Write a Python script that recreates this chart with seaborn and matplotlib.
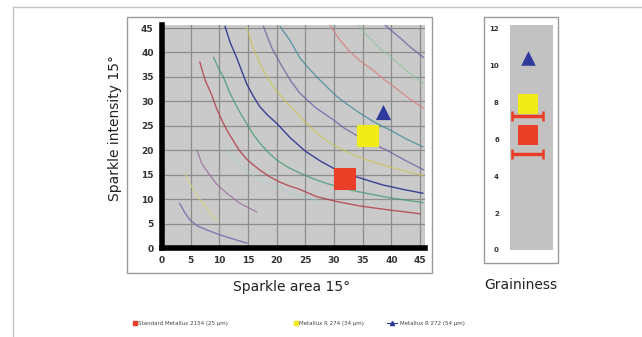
import numpy as np
import pandas as pd
import matplotlib
matplotlib.use('Agg')
import matplotlib.pyplot as plt
from matplotlib.patches import Rectangle
from matplotlib.lines import Line2D
import seaborn as sns

# ---- data ----
# iso-lines in the sparkle map (x = sparkle area, y = sparkle intensity)
curve_names = ['c1', 'c2', 'c3', 'c3b', 'c4', 'c5', 'c6', 'c7', 'c8', 'c9', 'c10', 'c11', 'c12']
curve_colors = ['#6d6dae', '#d9d77a', '#9a6c9c', '#9fd3d6', '#b3404c', '#3f9a6e', '#33378f',
                '#c9c652', '#6c5ba3', '#3c8a98', '#d88282', '#8fc49a', '#6e5aa6']
curve_x = [
    [3.1, 4.0, 4.9, 6.2, 7.8, 10.1, 12.5, 14.8],
    [4.0, 4.7, 5.5, 6.3, 7.2, 8.3, 9.5],
    [6.1, 6.9, 8.1, 9.5, 11.3, 13.5, 16.5],
    [11.0, 12.4, 14.0, 15.8, 18.0, 20.4, 23.0, 28.0],
    [6.6, 7.5, 8.6, 9.5, 10.5, 11.4, 12.4, 13.4, 14.5, 15.7, 17.0, 18.6, 20.5, 22.2, 24.0, 27.0, 30.5, 34.5, 39.5, 45.0],
    [9.0, 9.8, 10.7, 11.8, 13.0, 14.0, 15.0, 16.0, 17.1, 18.5, 20.0, 22.0, 24.1, 26.3, 28.7, 33.0, 40.0, 45.5],
    [11.0, 11.9, 13.0, 13.9, 14.8, 15.9, 17.0, 18.4, 20.0, 22.4, 25.0, 27.6, 30.4, 33.0, 35.7, 38.5, 42.0, 45.5],
    [14.8, 15.8, 17.0, 18.1, 19.4, 21.4, 23.5, 24.9, 26.4, 28.1, 30.0, 32.7, 35.7, 40.0, 45.5],
    [17.7, 19.2, 21.0, 22.5, 24.1, 26.8, 29.9, 31.8, 34.0, 36.5, 39.2, 42.3, 45.6],
    [20.6, 22.3, 24.0, 25.4, 27.0, 28.7, 30.5, 32.4, 34.5, 37.1, 40.0, 42.6, 45.5],
    [29.3, 30.8, 32.5, 34.5, 36.8, 38.8, 41.0, 43.2, 45.6],
    [34.0, 35.4, 37.0, 38.4, 40.0, 42.7, 45.6],
    [38.5, 40.0, 41.5, 43.4, 45.6],
]
curve_y = [
    [9.1, 7.2, 5.7, 4.5, 3.7, 2.7, 1.8, 1.0],
    [15.3, 13.5, 11.9, 10.4, 9.1, 7.3, 5.7],
    [20.0, 17.4, 15.3, 13.1, 11.2, 9.2, 7.4],
    [21.0, 18.5, 16.5, 14.9, 13.5, 12.2, 11.0, 9.5],
    [38.0, 34.4, 31.5, 28.6, 26.0, 23.9, 22.0, 20.1, 18.5, 17.2, 16.0, 14.7, 13.5, 12.7, 12.0, 10.5, 9.5, 8.6, 7.8, 7.0],
    [39.0, 36.9, 35.0, 31.8, 29.0, 26.9, 25.0, 23.1, 21.4, 19.6, 18.0, 16.5, 15.3, 14.2, 13.2, 11.8, 10.2, 9.3],
    [45.3, 42.0, 39.0, 36.2, 33.5, 31.1, 29.0, 27.2, 25.5, 22.5, 19.8, 17.8, 16.0, 14.9, 13.9, 12.9, 12.0, 11.2],
    [45.0, 41.2, 38.0, 35.4, 33.0, 30.2, 27.6, 25.8, 24.1, 22.5, 21.0, 19.4, 18.0, 16.5, 14.8],
    [45.3, 40.8, 37.0, 34.1, 31.6, 28.7, 26.2, 24.5, 23.0, 21.5, 20.0, 18.0, 16.0],
    [45.3, 42.5, 39.0, 37.0, 35.0, 33.0, 31.0, 29.3, 27.6, 25.7, 24.0, 22.3, 20.7],
    [45.6, 42.9, 40.5, 38.3, 36.4, 34.4, 32.5, 30.5, 28.6],
    [46.0, 43.9, 42.0, 40.4, 39.0, 36.2, 33.7],
    [46.0, 44.5, 43.0, 41.0, 39.0],
]
curve_alpha = [0.85, 0.7, 0.75, 0.45, 0.85, 0.75, 0.95, 0.7, 0.75, 0.75, 0.8, 0.65, 0.75]

# materials
materials = ['Standard Metallux 2154 (25 µm)', 'Metallux R 274 (34 µm)', 'Metallux R 272 (54 µm)']
mat_colors = ['#ea3f26', '#f1ec18', '#2f3a9c']
mat_markers = ['s', 's', '^']
sparkle_area = [32.0, 35.9, 38.5]
sparkle_intensity = [14.2, 22.9, 27.9]
graininess = [6.2, 7.9, 10.4]
grain_err_low = 5.2
grain_err_high = 7.25

ticks45 = [0, 5, 10, 15, 20, 25, 30, 35, 40, 45]
ticks12 = [0, 2, 4, 6, 8, 10, 12]

# ---- figure ----
W, H = 642, 337
fig = plt.figure(figsize=(W / 100, H / 100), dpi=100)
fig.patch.set_facecolor('white')


def px_axes(l, t, r, b):
    return fig.add_axes([l / W, 1 - b / H, (r - l) / W, (b - t) / H])


# outer frame
fig.add_artist(Line2D([13 / W, 1], [1 - 7 / H, 1 - 7 / H], color='#c4c4c4', lw=1))
fig.add_artist(Line2D([13 / W, 13 / W], [0, 1 - 7 / H], color='#c4c4c4', lw=1))
# panel frames
fig.add_artist(Rectangle((127 / W, 1 - 273 / H), (432 - 127) / W, (273 - 17) / H,
                         transform=fig.transFigure, fill=False, ec='#9a9a9a', lw=1))
fig.add_artist(Rectangle((484 / W, 1 - 263 / H), (558 - 484) / W, (263 - 17) / H,
                         transform=fig.transFigure, fill=False, ec='#9a9a9a', lw=1))

# ---- left: sparkle map ----
ax = px_axes(162, 25, 425, 248)
ax.set_facecolor('#cacaca')
ax.set_xlim(0, 45 * 263 / 258)
ax.set_ylim(0, 45 * 223 / 220)
for v in ticks45[1:]:
    ax.axvline(v, color='#8c8c8c', lw=0.9, zorder=1)
    ax.axhline(v, color='#8c8c8c', lw=0.9, zorder=1)

for name, xs, ys, c, a in zip(curve_names, curve_x, curve_y, curve_colors, curve_alpha):
    df = pd.DataFrame({'x': xs, 'y': ys})
    sns.lineplot(data=df, x='x', y='y', ax=ax, sort=False, color=c, lw=1.0, alpha=a, zorder=2)

df_pts = pd.DataFrame({'area': sparkle_area, 'intensity': sparkle_intensity, 'mat': materials})
for i in range(len(materials)):
    sz = 230 if mat_markers[i] == 's' else 120
    sns.scatterplot(data=df_pts.iloc[[i]], x='area', y='intensity', ax=ax, marker=mat_markers[i],
                    color=mat_colors[i], s=sz, linewidth=0, zorder=5, legend=False)

ax.set_xticks(ticks45)
ax.set_yticks(ticks45)
ax.tick_params(length=0, labelsize=6.5, labelcolor='#333333', pad=6)
for lab in ax.get_xticklabels() + ax.get_yticklabels():
    lab.set_fontweight('bold')
ax.set_xlabel('')
ax.set_ylabel('')
for s in ['top', 'right']:
    ax.spines[s].set_visible(False)
for s in ['left', 'bottom']:
    ax.spines[s].set_color('black')
    ax.spines[s].set_linewidth(4)

fig.text(292 / W, 1 - 287 / H, 'Sparkle area 15°', ha='center', va='center', fontsize=10, color='#222222')
fig.text(115 / W, 1 - 128 / H, 'Sparkle intensity 15°', ha='center', va='center', rotation=90,
         fontsize=10, color='#222222')

# ---- right: graininess ----
ax2 = px_axes(510, 25, 553, 250)
ax2.set_facecolor('#c2c2c2')
ax2.set_xlim(-0.42, 0.58)
ax2.set_ylim(0, 12 * 225 / 221.7)
df_g = pd.DataFrame({'x': [0, 0, 0], 'g': graininess, 'mat': materials})
for i in range(len(materials)):
    sz = 190 if mat_markers[i] == 's' else 110
    sns.scatterplot(data=df_g.iloc[[i]], x='x', y='g', ax=ax2, marker=mat_markers[i],
                    color=mat_colors[i], s=sz, linewidth=0, zorder=5, legend=False)
for yv in [grain_err_low, grain_err_high]:
    ax2.hlines(yv, -0.38, 0.34, color='#ea3f26', lw=2.5, zorder=4)
    ax2.vlines([-0.38, 0.34], yv - 0.25, yv + 0.25, color='#ea3f26', lw=1.8, zorder=4)
ax2.set_xticks([])
ax2.set_yticks(ticks12)
ax2.tick_params(length=0, labelsize=5, labelcolor='#333333', pad=8)
for lab in ax2.get_yticklabels():
    lab.set_fontweight('bold')
ax2.set_xlabel('')
ax2.set_ylabel('')
for s in ax2.spines.values():
    s.set_visible(False)
fig.text(521 / W, 1 - 285 / H, 'Graininess', ha='center', va='center', fontsize=10, color='#222222')

# ---- legend (three items, placed where they sit in the picture) ----
handles = [
    Line2D([], [], marker='s', color=mat_colors[0], ls='none', ms=3.5),
    Line2D([], [], marker='s', color=mat_colors[1], ls='none', ms=3.5),
    Line2D([], [], marker='^', color=mat_colors[2], ls='-', lw=0.8, ms=3),
]
leg_x = [129, 290, 383]
leg_len = [0.6, 0.6, 1.9]
for h, lab, lx, hl in zip(handles, materials, leg_x, leg_len):
    lg = fig.legend([h], [lab], loc='center left', bbox_to_anchor=(lx / W, 1 - 323 / H),
                    fontsize=4.0, frameon=False, handlelength=hl, handletextpad=0.4,
                    labelcolor='#444444', borderpad=0.2)

fig.savefig('out.png', dpi=100)
